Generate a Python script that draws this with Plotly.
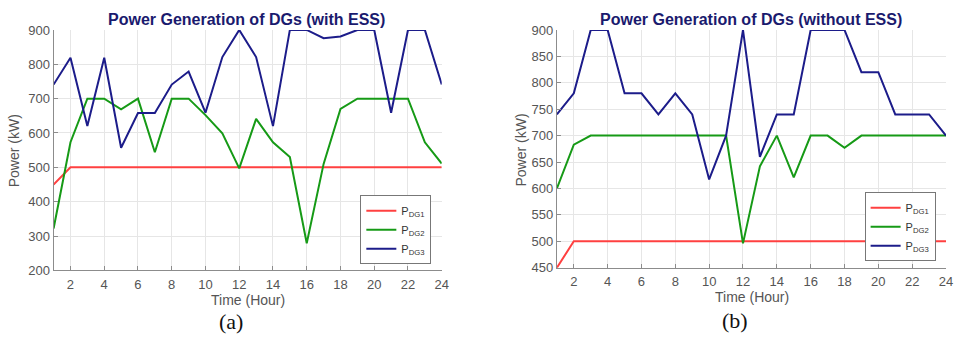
import plotly.graph_objects as go

hours = list(range(1, 25))

# (a) with ESS
a_dg1 = [450] + [500] * 23
a_dg2 = [322, 573, 700, 700, 669, 700, 544, 700, 700, 652, 599, 497,
         641, 573, 530, 279, 510, 670, 700, 700, 700, 700, 573, 511]
a_dg3 = [741, 819, 620, 819, 557, 658, 658, 741, 779, 659, 821, 900,
         821, 620, 900, 900, 876, 881, 900, 900, 659, 900, 900, 741]

# (b) without ESS
b_dg1 = [450] + [500] * 23
b_dg2 = [600, 683, 700, 700, 700, 700, 700, 700, 700, 700, 700, 496,
         642, 700, 621, 700, 700, 677, 700, 700, 700, 700, 700, 700]
b_dg3 = [740, 780, 900, 900, 780, 780, 740, 780, 740, 617, 700, 900,
         660, 740, 740, 900, 900, 900, 820, 820, 740, 740, 740, 700]

names = ["P<sub>DG1</sub>", "P<sub>DG2</sub>", "P<sub>DG3</sub>"]
colors = ["#FF4040", "#169A16", "#1C1C8A"]

W, H = 955, 341
fig = go.Figure()

for i, ys in enumerate([a_dg1, a_dg2, a_dg3]):
    fig.add_trace(go.Scatter(x=hours, y=ys, mode="lines", name=names[i],
                             line=dict(color=colors[i], width=2),
                             xaxis="x", yaxis="y", legend="legend"))
for i, ys in enumerate([b_dg1, b_dg2, b_dg3]):
    fig.add_trace(go.Scatter(x=hours, y=ys, mode="lines", name=names[i],
                             line=dict(color=colors[i], width=2),
                             xaxis="x2", yaxis="y2", legend="legend2"))

def px_x(p):
    return p / W

def px_y(p):
    return 1 - p / H

tickfont = dict(family="Liberation Sans, Arial, sans-serif", size=13, color="#555555")
axis_common = dict(showgrid=True, gridcolor="#E6E6E6", gridwidth=1,
                   showline=True, linecolor="#8C8C8C", linewidth=1,
                   ticks="inside", ticklen=4, tickcolor="#8C8C8C",
                   tickfont=tickfont, zeroline=False, mirror=False)

xticks = list(range(2, 25, 2))

legend_font = dict(family="Liberation Sans, Arial, sans-serif", size=11, color="#333333")

fig.update_layout(
    width=W, height=H,
    margin=dict(l=0, r=0, t=0, b=0),
    paper_bgcolor="white", plot_bgcolor="white",
    xaxis=dict(domain=[px_x(54), px_x(445)], range=[1, 24], tickvals=xticks,
               anchor="y", ticklabelstandoff=2, **axis_common),
    yaxis=dict(domain=[px_y(275.5), px_y(24)], range=[200, 900],
               tickvals=list(range(200, 901, 100)), anchor="x", **axis_common),
    xaxis2=dict(domain=[px_x(561), px_x(953)], range=[1, 24], tickvals=xticks,
                anchor="y2", ticklabelstandoff=2, **axis_common),
    yaxis2=dict(domain=[px_y(272.7), px_y(24)], range=[450, 900],
                tickvals=list(range(450, 901, 50)), anchor="x2", **axis_common),
    legend=dict(x=px_x(363), y=px_y(269), xanchor="left", yanchor="bottom",
                bgcolor="white", bordercolor="#777777", borderwidth=1,
                font=legend_font, tracegroupgap=0, itemwidth=30),
    legend2=dict(x=px_x(871), y=px_y(266), xanchor="left", yanchor="bottom",
                 bgcolor="white", bordercolor="#777777", borderwidth=1,
                 font=legend_font, tracegroupgap=0, itemwidth=30),
    showlegend=True,
)

ann_font = dict(family="Liberation Sans, Arial, sans-serif", size=14, color="#555555")
title_font = dict(family="Liberation Sans, Arial, sans-serif", size=16, color="#1A1A6E")
serif_font = dict(family="Liberation Serif, Times New Roman, serif", size=22, color="#111111")

annotations = [
    dict(text="<b>Power Generation of DGs (with ESS)</b>", x=px_x(248), y=px_y(13), font=title_font),
    dict(text="<b>Power Generation of DGs (without ESS)</b>", x=px_x(757), y=px_y(13), font=title_font),
    dict(text="Time (Hour)", x=px_x(250), y=px_y(306), font=ann_font),
    dict(text="Time (Hour)", x=px_x(758), y=px_y(303), font=ann_font),
    dict(text="Power (kW)", x=px_x(15), y=px_y(150), font=ann_font, textangle=-90),
    dict(text="Power (kW)", x=px_x(525), y=px_y(150), font=ann_font, textangle=-90),
    dict(text="(a)", x=px_x(233), y=px_y(329), font=serif_font),
    dict(text="(b)", x=px_x(740), y=px_y(328), font=serif_font),
]
for a in annotations:
    a.update(xref="paper", yref="paper", showarrow=False, xanchor="center", yanchor="middle")
fig.update_layout(annotations=annotations)

fig.write_html("out.html")
